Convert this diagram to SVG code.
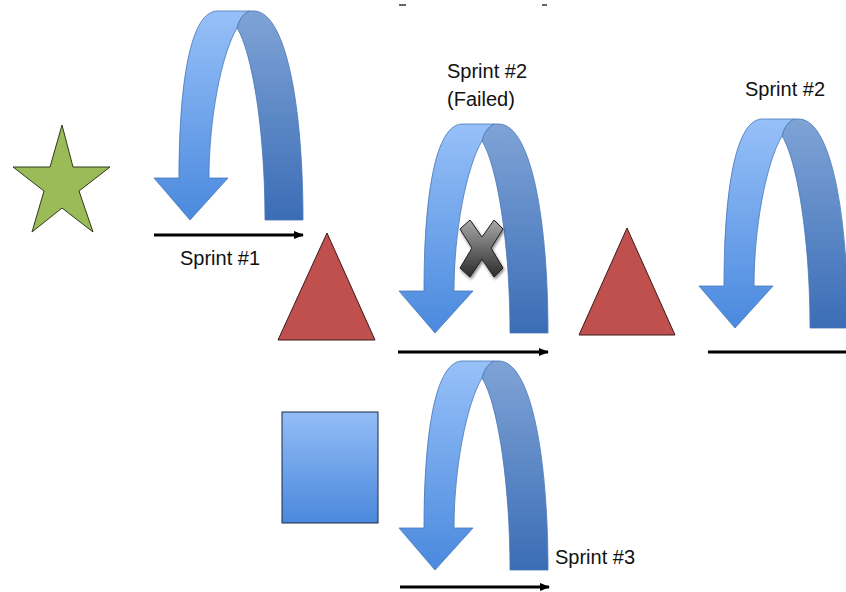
<svg xmlns="http://www.w3.org/2000/svg" xmlns:xlink="http://www.w3.org/1999/xlink" width="846" height="592" viewBox="0 0 846 592">
  <style>
    .lbl { font-family: "Liberation Sans", Arial, sans-serif; font-size: 20px; fill: #111; }
    .flow { stroke: #000; stroke-width: 3; fill: none; }
    .edge { stroke: #4877b8; stroke-width: 0.8; }
  </style>
  <defs>
    <linearGradient id="gFront" x1="0" y1="0" x2="0" y2="1">
      <stop offset="0" stop-color="#97c0f8"/>
      <stop offset="1" stop-color="#4a89de"/>
    </linearGradient>
    <linearGradient id="gBack" x1="0" y1="0" x2="0" y2="1">
      <stop offset="0" stop-color="#7fa3d6"/>
      <stop offset="1" stop-color="#3b6db6"/>
    </linearGradient>
    <linearGradient id="gSquare" x1="0" y1="0" x2="0" y2="1">
      <stop offset="0" stop-color="#93bdf7"/>
      <stop offset="1" stop-color="#4b88dc"/>
    </linearGradient>
    <linearGradient id="gCross" x1="0" y1="0" x2="0" y2="1">
      <stop offset="0" stop-color="#a8a8a8"/>
      <stop offset="1" stop-color="#2c2c2c"/>
    </linearGradient>
    <filter id="shadow" x="-30%" y="-30%" width="160%" height="160%">
      <feGaussianBlur in="SourceAlpha" stdDeviation="1.5"/>
      <feOffset dx="1" dy="2" result="o"/>
      <feComponentTransfer><feFuncA type="linear" slope="0.5"/></feComponentTransfer>
      <feMerge><feMergeNode/><feMergeNode in="SourceGraphic"/></feMerge>
    </filter>
    <marker id="head" viewBox="0 0 10 8" refX="9" refY="4" markerWidth="10" markerHeight="8" markerUnits="userSpaceOnUse" orient="auto">
      <path d="M0,0 L10,4 L0,8 Z" fill="#000"/>
    </marker>
    <!-- U-turn arrow, drawn with its arrow tip at (190,220) -->
    <g id="uturn">
      <path class="edge" fill="url(#gBack)" d="M249,11 L255,11 C287,14 303,110 303,220 L265,220 C265,130 252,52 237,28 Q240,15 249,11 Z"/>
      <path class="edge" fill="url(#gFront)" d="M154,178 L179,178 C179,100 187,12 217,11 L249,11 Q240,15 237,28 C221,55 209,120 209,178 L228,178 L190,220 Z"/>
    </g>
  </defs>

  <rect width="846" height="592" fill="#fff"/>

  <!-- small marks along the top edge -->
  <g id="marks" stroke="#333" stroke-width="1.5">
    <line x1="399" y1="5" x2="406" y2="5"/>
    <line x1="542" y1="5" x2="547" y2="5"/>
  </g>

  <g id="star">
    <polygon points="62,125 73,167 110,167 79,191 93,232 62,208 32,232 44,191 13,167 50,167" fill="#9bbb59" stroke="#2f3a1a" stroke-width="1"/>
  </g>

  <g id="sprint1">
    <use xlink:href="#uturn"/>
    <text class="lbl" x="180" y="265">Sprint #1</text>
  </g>

  <g id="triangle1">
    <polygon points="327,233 375,340 278,340" fill="#c0504d" stroke="#3a1a1a" stroke-width="1"/>
  </g>

  <g id="sprint2-failed">
    <text class="lbl" x="447" y="78">Sprint #2</text>
    <text class="lbl" x="447" y="106">(Failed)</text>
    <use xlink:href="#uturn" transform="translate(245,113)"/>
  </g>

  <g id="fail-mark" filter="url(#shadow)">
    <polygon points="470,220 482,237 494,220 503,229 491,248 503,268 494,277 482,259 470,277 460,268 472,248 460,229" fill="url(#gCross)" stroke="#1f1f1f" stroke-width="1" stroke-linejoin="round"/>
  </g>

  <g id="triangle2">
    <polygon points="627,228 675,335 579,335" fill="#c0504d" stroke="#3a1a1a" stroke-width="1"/>
  </g>

  <g id="sprint2">
    <text class="lbl" x="745" y="96">Sprint #2</text>
    <use xlink:href="#uturn" transform="translate(545,108)"/>
  </g>

  <g id="square">
    <rect x="282" y="412" width="96" height="111" fill="url(#gSquare)" stroke="#1b2a44" stroke-width="1"/>
  </g>

  <g id="sprint3">
    <use xlink:href="#uturn" transform="translate(245,350)"/>
    <text class="lbl" x="555" y="564">Sprint #3</text>
  </g>

  <g id="connectors">
    <line class="flow" x1="154" y1="235" x2="303" y2="235" marker-end="url(#head)"/>
    <line class="flow" x1="398" y1="352" x2="548" y2="352" marker-end="url(#head)"/>
    <line class="flow" x1="708" y1="352" x2="846" y2="352"/>
    <line class="flow" x1="400" y1="587" x2="549" y2="587" marker-end="url(#head)"/>
  </g>
</svg>
